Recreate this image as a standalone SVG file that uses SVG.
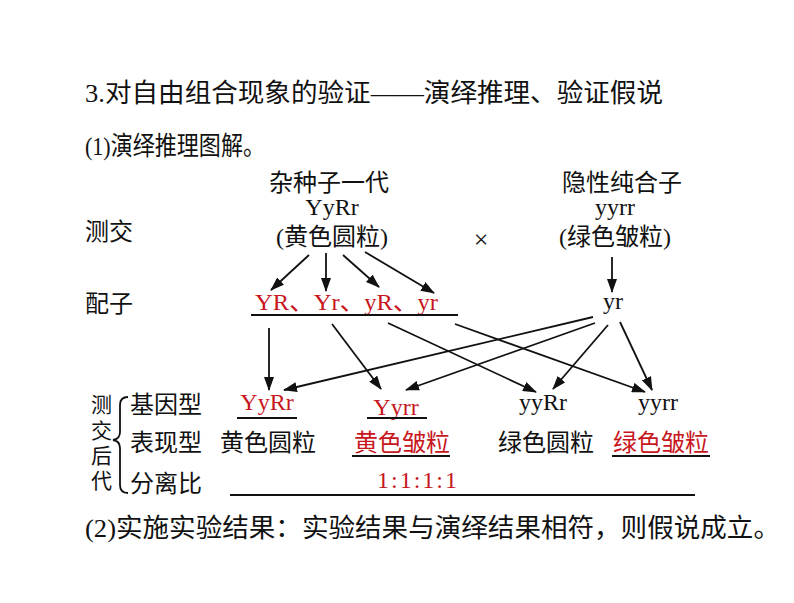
<svg xmlns="http://www.w3.org/2000/svg" width="794" height="603" viewBox="0 0 794 603">
<defs>
<style>
.t{font-family:"Liberation Serif","Noto Sans CJK SC",serif;fill:#111;}
.s26{font-size:26px;}
.s24{font-size:24px;}
.s21{font-size:21px;}
.red{fill:#c8161d;}
.ln{stroke:#111;stroke-width:1.8;fill:none;}
.ul{stroke:#111;stroke-width:2;}
.ar{stroke:#111;stroke-width:1.8;fill:none;marker-end:url(#ah);}
</style>
<marker id="ah" viewBox="0 0 14 10" refX="13" refY="5" markerWidth="14" markerHeight="10" markerUnits="userSpaceOnUse" orient="auto">
<path d="M0,0 L14,5 L0,10 Z" fill="#111"/>
</marker>
</defs>
<rect width="794" height="603" fill="#fff"/>

<g id="title">
<text class="t s26" x="85" y="102" textLength="578" lengthAdjust="spacingAndGlyphs">3.对自由组合现象的验证——演绎推理、验证假说</text>
<text class="t s26" x="85" y="155" textLength="180" lengthAdjust="spacingAndGlyphs">(1)演绎推理图解。</text>
</g>

<g id="label-cross">
<text class="t s24" x="85" y="240">测交</text>
</g>
<g id="label-gamete">
<text class="t s24" x="85" y="312">配子</text>
</g>

<g id="parent1">
<text class="t s24" x="329" y="191" text-anchor="middle">杂种子一代</text>
<text class="t s24" x="332" y="215" text-anchor="middle">YyRr</text>
<text class="t s24" x="332" y="245" text-anchor="middle">(黄色圆粒)</text>
</g>
<g id="cross-sign">
<text class="t" style="font-size:26px" x="481" y="248" text-anchor="middle">×</text>
</g>
<g id="parent2">
<text class="t s24" x="622" y="191" text-anchor="middle">隐性纯合子</text>
<text class="t s24" x="615" y="215" text-anchor="middle">yyrr</text>
<text class="t s24" x="615" y="245" text-anchor="middle">(绿色皱粒)</text>
</g>

<g id="gametes1">
<text class="t s24 red" x="255" y="310" textLength="183" lengthAdjust="spacingAndGlyphs">YR、Yr、yR、yr</text>
<line class="ul" x1="251" y1="315" x2="458" y2="315"/>
</g>
<g id="gametes2">
<text class="t s24" x="613" y="309" text-anchor="middle">yr</text>
</g>

<g id="offspring-label">
<text class="t s21" x="91" y="412">测</text>
<text class="t s21" x="91" y="438">交</text>
<text class="t s21" x="91" y="463">后</text>
<text class="t s21" x="91" y="488">代</text>
<path class="ln" d="M128,397 Q120,397 120,405 L120,432 Q120,439 113,440 Q120,441 120,448 L120,485 Q120,493 128,493"/>
<text class="t s24" x="130" y="413">基因型</text>
<text class="t s24" x="130" y="451">表现型</text>
<text class="t s24" x="130" y="492">分离比</text>
</g>

<g id="YyRr">
<text class="t s24 red" x="267" y="410" text-anchor="middle">YyRr</text>
<line class="ul" x1="237" y1="418" x2="297" y2="418"/>
<text class="t s24" x="220" y="451">黄色圆粒</text>
</g>
<g id="Yyrr">
<text class="t s24 red" x="396" y="415" text-anchor="middle">Yyrr</text>
<line class="ul" x1="367" y1="418" x2="427" y2="418"/>
<text class="t s24 red" x="354" y="451">黄色皱粒</text>
<line class="ul" x1="352" y1="456" x2="450" y2="456"/>
</g>
<g id="yyRr">
<text class="t s24" x="543" y="410" text-anchor="middle">yyRr</text>
<text class="t s24" x="498" y="451">绿色圆粒</text>
</g>
<g id="yyrr">
<text class="t s24" x="658" y="410" text-anchor="middle">yyrr</text>
<text class="t s24 red" x="613" y="451">绿色皱粒</text>
<line class="ul" x1="612" y1="456" x2="710" y2="456"/>
</g>
<g id="ratio">
<text class="t s24 red" x="377" y="488" textLength="80" lengthAdjust="spacing">1:1:1:1</text>
<line class="ul" x1="230" y1="495" x2="695" y2="495"/>
</g>

<g id="connectors">
<line class="ar" x1="309" y1="255" x2="271" y2="290"/>
<line class="ar" x1="326" y1="253" x2="326" y2="291"/>
<line class="ar" x1="343" y1="255" x2="379" y2="287"/>
<line class="ar" x1="365" y1="252" x2="434" y2="293"/>
<line class="ar" x1="612" y1="257" x2="612" y2="292"/>
<line class="ar" x1="269" y1="328" x2="269" y2="390"/>
<line class="ar" x1="332" y1="324" x2="381" y2="389"/>
<line class="ar" x1="388" y1="323" x2="536" y2="392"/>
<line class="ar" x1="455" y1="324" x2="645" y2="392"/>
<line class="ar" x1="593" y1="317" x2="284" y2="390"/>
<line class="ar" x1="595" y1="323" x2="406" y2="390"/>
<line class="ar" x1="608" y1="325" x2="553" y2="389"/>
<line class="ar" x1="620" y1="322" x2="652" y2="390"/>
</g>

<g id="conclusion">
<text class="t s26" x="85" y="537" textLength="695" lengthAdjust="spacingAndGlyphs">(2)实施实验结果：实验结果与演绎结果相符，则假说成立。</text>
</g>
</svg>
